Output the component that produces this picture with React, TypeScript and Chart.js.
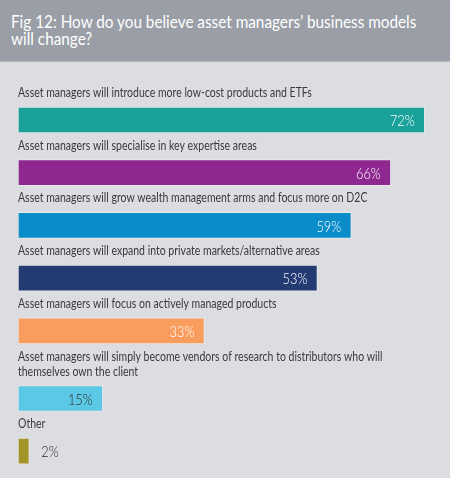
import React, { useEffect, useRef } from "react";
import { Chart, registerables } from "chart.js";

Chart.register(...registerables);

const titleLines = ["Fig 12: How do you believe asset managers’ business models", "will change?"];

const categories: string[][] = [
  ["Asset managers will introduce more low-cost products and ETFs"],
  ["Asset managers will specialise in key expertise areas"],
  ["Asset managers will grow wealth management arms and focus more on D2C"],
  ["Asset managers will expand into private markets/alternative areas"],
  ["Asset managers will focus on actively managed products"],
  [
    "Asset managers will simply become vendors of research to distributors who will",
    "themselves own the client",
  ],
  ["Other"],
];

const values = [72, 66, 59, 53, 33, 15, 2];

const barColors = ["#1aa19a", "#8e278f", "#0a8ccb", "#233a73", "#f99d5e", "#5bc9e6", "#a39427"];
const valueTextColors = ["#ffffff", "#ffffff", "#ffffff", "#ffffff", "#ffffff", "#2b2b2b", "#2b2b2b"];

const FONT = "Lato, 'Noto Sans', sans-serif";
const ROW = 52.7; // layout units per row
const EXTRA_LINE = 15; // extra room for each additional label line
const TEXT_SQUEEZE = 0.84;
const VALUE_SQUEEZE = 0.8;

// Row positions derived from the row index and the number of label lines
const rowPositions: number[] = (() => {
  const out: number[] = [];
  let extra = 0;
  categories.forEach((lines, i) => {
    extra += (lines.length - 1) * EXTRA_LINE;
    out.push(i * ROW + extra);
  });
  return out;
})();

const labelsPlugin = {
  id: "barLabels",
  afterDatasetsDraw(chart: any) {
    const ctx = chart.ctx;
    const meta = chart.getDatasetMeta(0);
    meta.data.forEach((bar: any, i: number) => {
      const { x, y, base, height } = bar.getProps(["x", "y", "base", "height"], true);
      const top = y - height / 2;
      const lines = categories[i];
      ctx.save();
      ctx.font = `400 12.5px ${FONT}`;
      ctx.fillStyle = "#3a3a3a";
      ctx.textBaseline = "middle";
      ctx.textAlign = "left";
      lines.forEach((ln, k) => {
        ctx.save();
        ctx.translate(chart.chartArea.left, top - 14 - (lines.length - 1 - k) * 15);
        ctx.scale(TEXT_SQUEEZE, 1);
        ctx.fillText(ln, 0, 0);
        ctx.restore();
      });
      ctx.font = `300 16px ${FONT}`;
      const txt = `${values[i]}%`;
      const w = ctx.measureText(txt).width * VALUE_SQUEEZE;
      ctx.fillStyle = valueTextColors[i];
      if (x - base > w + 20) {
        ctx.textAlign = "right";
        ctx.translate(x - 10, y + 1);
      } else {
        ctx.textAlign = "left";
        ctx.translate(x + 12, y + 1);
      }
      ctx.scale(VALUE_SQUEEZE, 1);
      ctx.fillText(txt, 0, 0);
      ctx.restore();
    });
  },
};

export default function App() {
  const ref = useRef<HTMLCanvasElement | null>(null);

  useEffect(() => {
    if (!ref.current) return;
    const chart = new Chart(ref.current, {
      type: "bar",
      data: {
        datasets: [
          {
            data: values.map((v, i) => ({ x: v, y: rowPositions[i] })),
            backgroundColor: barColors,
            borderColor: "rgba(255,255,255,0.35)",
            borderWidth: 1,
            borderSkipped: false,
            barThickness: 26,
          },
        ],
      },
      options: {
        indexAxis: "y",
        animation: false,
        responsive: false,
        maintainAspectRatio: false,
        layout: { padding: { left: 18, right: 14, top: 92, bottom: 0 } },
        plugins: {
          legend: { display: false },
          tooltip: { enabled: false },
        },
        scales: {
          x: { type: "linear", display: false, min: 0, max: 74 },
          y: { type: "linear", display: false, offset: false, reverse: true, min: -28, max: 358 },
        },
      },
      plugins: [labelsPlugin],
    });
    return () => chart.destroy();
  }, []);

  return (
    <div
      style={{
        position: "absolute",
        left: 0,
        top: 0,
        width: 450,
        height: 478,
        background: "#dcdde1",
        overflow: "hidden",
      }}
    >
      <div
        style={{
          position: "absolute",
          left: 0,
          top: 0,
          width: 450,
          height: 61,
          background: "#9a9ea6",
          borderBottom: "1px solid #b4b7bc",
        }}
      >
        <div
          style={{
            position: "absolute",
            left: 11,
            top: 14,
            color: "#ffffff",
            fontFamily: FONT,
            fontSize: 17,
            lineHeight: "16.5px",
            whiteSpace: "nowrap",
            transform: "scaleX(0.9)",
            transformOrigin: "0 0",
          }}
        >
          {titleLines.map((t, i) => (
            <div key={i}>{t}</div>
          ))}
        </div>
      </div>
      <canvas
        ref={ref}
        width={450}
        height={478}
        style={{ position: "absolute", left: 0, top: 0, width: 450, height: 478 }}
      />
    </div>
  );
}
